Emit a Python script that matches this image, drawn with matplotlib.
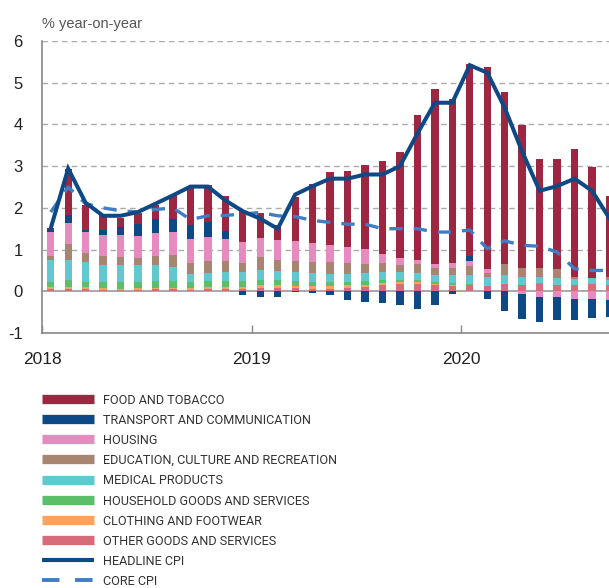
import matplotlib
matplotlib.use('Agg')
import matplotlib.pyplot as plt
from matplotlib import font_manager as fm
from matplotlib.lines import Line2D
import numpy as np

# ---------------- data (Jan 2018 .. Sep 2020, monthly) ----------------
n_months = 33
food = [0.05, 1.10, 0.60, 0.34, 0.22, 0.27, 0.32, 0.58, 0.92, 0.88, 0.83, 0.74,
        0.60, 0.34, 1.05, 1.42, 1.76, 1.84, 2.01, 2.22, 2.55, 3.46, 4.21, 3.92,
        4.60, 4.85, 4.12, 3.42, 2.59, 2.65, 3.07, 2.66, 1.94]
transport = [0.03, 0.18, 0.04, 0.14, 0.20, 0.28, 0.34, 0.32, 0.34, 0.37, 0.19, -0.08,
             -0.14, -0.14, -0.02, -0.05, -0.10, -0.22, -0.26, -0.28, -0.34, -0.42, -0.34, -0.07,
             0.11, -0.19, -0.48, -0.59, -0.60, -0.56, -0.52, -0.46, -0.42]
housing = [0.59, 0.50, 0.50, 0.50, 0.52, 0.53, 0.56, 0.56, 0.58, 0.56, 0.53, 0.50,
           0.47, 0.50, 0.48, 0.46, 0.40, 0.37, 0.35, 0.22, 0.16, 0.11, 0.08, 0.11,
           0.12, 0.08, 0.00, -0.07, -0.14, -0.14, -0.18, -0.18, -0.20]
education = [0.10, 0.38, 0.22, 0.20, 0.18, 0.18, 0.22, 0.28, 0.26, 0.28, 0.27, 0.22,
             0.31, 0.26, 0.25, 0.26, 0.28, 0.26, 0.21, 0.22, 0.17, 0.20, 0.19, 0.19,
             0.23, 0.11, 0.27, 0.22, 0.22, 0.21, 0.05, 0.00, 0.08]
medical = [0.52, 0.48, 0.48, 0.42, 0.42, 0.40, 0.38, 0.34, 0.20, 0.20, 0.21, 0.21,
           0.22, 0.22, 0.23, 0.22, 0.20, 0.20, 0.21, 0.20, 0.19, 0.17, 0.16, 0.18,
           0.20, 0.18, 0.17, 0.18, 0.16, 0.16, 0.13, 0.14, 0.12]
household = [0.12, 0.18, 0.12, 0.14, 0.16, 0.15, 0.15, 0.15, 0.15, 0.15, 0.15, 0.15,
             0.14, 0.12, 0.12, 0.10, 0.10, 0.08, 0.08, 0.06, 0.05, 0.06, 0.04, 0.04,
             0.02, 0.02, 0.02, 0.02, 0.02, 0.01, 0.00, 0.00, 0.00]
clothing = [0.04, 0.04, 0.04, 0.04, 0.02, 0.03, 0.04, 0.04, 0.03, 0.04, 0.05, 0.05,
            0.06, 0.06, 0.05, 0.06, 0.06, 0.06, 0.06, 0.06, 0.05, 0.05, 0.04, 0.03,
            0.02, 0.02, 0.01, 0.00, 0.00, 0.00, 0.00, 0.00, 0.00]
other = [0.06, 0.06, 0.06, 0.04, 0.04, 0.04, 0.05, 0.05, 0.04, 0.06, 0.05, 0.05,
         0.08, 0.08, 0.07, 0.06, 0.06, 0.08, 0.10, 0.14, 0.18, 0.17, 0.14, 0.13,
         0.14, 0.12, 0.18, 0.14, 0.17, 0.15, 0.16, 0.18, 0.14]
headline = [1.51, 2.94, 2.12, 1.81, 1.81, 1.90, 2.10, 2.30, 2.51, 2.51, 2.18, 1.92,
            1.74, 1.50, 2.32, 2.52, 2.70, 2.70, 2.80, 2.80, 3.00, 3.78, 4.52, 4.52,
            5.42, 5.24, 4.40, 3.35, 2.41, 2.52, 2.70, 2.41, 1.75]
core = [1.90, 2.50, 2.10, 2.00, 1.93, 1.90, 1.96, 2.00, 1.72, 1.81, 1.82, 1.85,
        1.89, 1.81, 1.79, 1.70, 1.65, 1.61, 1.61, 1.50, 1.50, 1.50, 1.42, 1.42,
        1.47, 1.02, 1.21, 1.10, 1.08, 0.94, 0.54, 0.50, 0.50]

year_ticks = [0, 12, 24]
year_labels = ['2018', '2019', '2020']
y_ticks = [-1, 0, 1, 2, 3, 4, 5, 6]

# stacking order from the zero line outward
stack = [
    ('OTHER GOODS AND SERVICES', other, '#D86B7A'),
    ('CLOTHING AND FOOTWEAR', clothing, '#F9A261'),
    ('HOUSEHOLD GOODS AND SERVICES', household, '#5DBE6A'),
    ('MEDICAL PRODUCTS', medical, '#62C8D0'),
    ('EDUCATION, CULTURE AND RECREATION', education, '#A88570'),
    ('HOUSING', housing, '#E68ABF'),
    ('TRANSPORT AND COMMUNICATION', transport, '#0D4A85'),
    ('FOOD AND TOBACCO', food, '#9E2640'),
]
headline_color = '#0D4A85'
core_color = '#3F7EC4'

# ---------------- fonts ----------------
names = {f.name for f in fm.fontManager.ttflist}
base_font = 'Liberation Sans' if 'Liberation Sans' in names else 'DejaVu Sans'
if 'Liberation Sans Narrow' in names:
    narrow_font = 'Liberation Sans Narrow'
elif 'Roboto' in names:
    narrow_font = 'Roboto'
else:
    narrow_font = base_font
plt.rcParams['font.family'] = [base_font, 'DejaVu Sans']

W, H = 609, 588
fig = plt.figure(figsize=(W / 100, H / 100), dpi=100)
ax = fig.add_axes([42 / W, (H - 333) / H, (W - 42) / W, (333 - 41) / H])

x = np.arange(n_months) + 0.5
pos = np.zeros(n_months)
neg = np.zeros(n_months)
for name, vals, col in stack:
    v = np.array(vals, dtype=float)
    p = np.where(v > 0, v, 0)
    q = np.where(v < 0, v, 0)
    ax.bar(x, p, 0.42, bottom=pos, color=col, linewidth=0, zorder=3)
    ax.bar(x, q, 0.42, bottom=neg, color=col, linewidth=0, zorder=3)
    pos += p
    neg += q

ax.plot(x, headline, color=headline_color, lw=2.9, zorder=5, solid_joinstyle='miter')
ax.plot(x, core, color=core_color, lw=2.4, zorder=4, linestyle=(0, (4, 3.3)),
        dash_capstyle='butt')

ax.set_xlim(0, (W - 42) / 17.46)
ax.set_ylim(-1, 6)
for yv in [1, 2, 3, 4, 5, 6]:
    ax.axhline(yv, color='#AAAAAA', lw=1.0, linestyle=(0, (4, 3)), zorder=1)
ax.axhline(0, color='#999999', lw=1.2, zorder=2)

for s in ['top', 'right']:
    ax.spines[s].set_visible(False)
for s in ['left', 'bottom']:
    ax.spines[s].set_color('#888888')
    ax.spines[s].set_linewidth(1.2)

ax.set_yticks(y_ticks)
ax.set_yticklabels([str(t) for t in y_ticks])
ax.set_xticks(year_ticks)
ax.set_xticklabels(year_labels)
ax.tick_params(axis='y', length=0, pad=14, labelsize=12, labelcolor='#222222')
ax.tick_params(axis='x', direction='in', length=6, width=1, color='#888888',
               pad=14, labelsize=12.5, labelcolor='#222222')

fig.text(42 / W, 1 - 24 / H, '% year-on-year', fontsize=10.5, color='#555555',
         ha='left', va='center')

# ---------------- legend ----------------
legend_items = [(n, c, 'bar') for n, v, c in stack[::-1]]
legend_items += [('HEADLINE CPI', headline_color, 'line'), ('CORE CPI', core_color, 'dash')]
y0, step = 399.0, 20.15
texts = []
for k, (label, col, kind) in enumerate(legend_items):
    yc = y0 + k * step
    yf = 1 - yc / H
    if kind == 'bar':
        ln = Line2D([42 / W, 94 / W], [yf, yf], color=col, lw=6.7, solid_capstyle='butt',
                    transform=fig.transFigure)
    elif kind == 'line':
        ln = Line2D([42 / W, 94 / W], [yf, yf], color=col, lw=3.0, solid_capstyle='butt',
                    transform=fig.transFigure)
    else:
        ln = Line2D([42 / W, 94 / W], [yf, yf], color=col, lw=2.8, linestyle=(0, (4.5, 4)),
                    dash_capstyle='butt', transform=fig.transFigure)
    fig.add_artist(ln)
    t = fig.text(103 / W, 1 - (yc + 4.8) / H, label, fontsize=10.5, color='#333333',
                 family=[narrow_font, 'DejaVu Sans'], ha='left', va='baseline')
    texts.append(t)

# fit legend text width to the reference (longest label ~235 px wide)
renderer = fig.canvas.get_renderer()
longest = max(texts, key=lambda t: len(t.get_text()))
wpx = longest.get_window_extent(renderer).width
fs = 10.5 * 235.0 / wpx
fs = min(10.5, max(8.0, fs))
for t in texts:
    t.set_fontsize(fs)

fig.savefig('out.png', dpi=100)
